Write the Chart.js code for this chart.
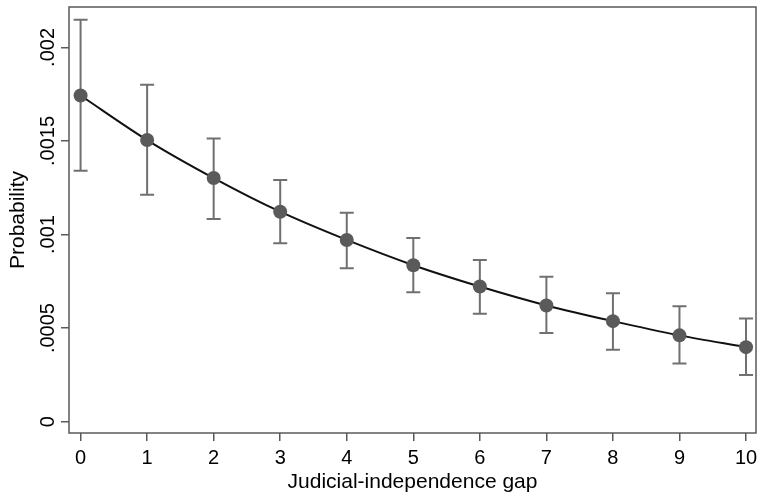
<!DOCTYPE html>
<html>
<head>
<meta charset="utf-8">
<script src="https://cdn.jsdelivr.net/npm/chart.js@4"></script>
<style>
  html, body { margin: 0; padding: 0; background: #fff; }
  #wrap { width: 763px; height: 497px; }
</style>
</head>
<body>
<div id="wrap"><canvas id="chart" width="763" height="497"></canvas></div>
<script>
// judicial-independence gap values
const gap = [0, 1, 2, 3, 4, 5, 6, 7, 8, 9, 10];
// predicted probability and its confidence interval
const prob  = [0.001743, 0.001505, 0.001302, 0.001122, 0.000971, 0.000836, 0.000722, 0.000621, 0.000537, 0.000461, 0.000398];
const upper = [0.002148, 0.001800, 0.001513, 0.001291, 0.001117, 0.000982, 0.000864, 0.000774, 0.000686, 0.000617, 0.000551];
const lower = [0.001341, 0.001213, 0.001083, 0.000953, 0.000820, 0.000692, 0.000576, 0.000473, 0.000384, 0.000310, 0.000249];

const xTicks = [0, 1, 2, 3, 4, 5, 6, 7, 8, 9, 10];
const yTicks = [0, 0.0005, 0.001, 0.0015, 0.002];
const yTickLabels = ['0', '.0005', '.001', '.0015', '.002'];

Chart.defaults.font.family = '"Liberation Sans", Arial, sans-serif';
Chart.defaults.color = '#000';

// whiskers for the confidence intervals
const errorBars = {
    id: 'errorBars',
    beforeDatasetsDraw(chart) {
        const ctx = chart.ctx;
        const xs = chart.scales.x, ys = chart.scales.y;
        ctx.save();
        ctx.strokeStyle = '#707070';
        ctx.lineWidth = 2;
        gap.forEach((g, i) => {
            const px = xs.getPixelForValue(g);
            const top = ys.getPixelForValue(upper[i]);
            const bot = ys.getPixelForValue(lower[i]);
            ctx.beginPath();
            ctx.moveTo(px, top); ctx.lineTo(px, bot);
            ctx.moveTo(px - 7, top); ctx.lineTo(px + 7, top);
            ctx.moveTo(px - 7, bot); ctx.lineTo(px + 7, bot);
            ctx.stroke();
        });
        ctx.restore();
    }
};

// full box round the plot region
const frame = {
    id: 'frame',
    afterDraw(chart) {
        const a = chart.chartArea, ctx = chart.ctx;
        ctx.save();
        ctx.strokeStyle = '#5a5a5a';
        ctx.lineWidth = 1.5;
        ctx.strokeRect(a.left, a.top, a.right - a.left, a.bottom - a.top);
        ctx.restore();
    }
};

function noPad(s) {
    s.paddingTop = 0; s.paddingBottom = 0; s.paddingLeft = 0; s.paddingRight = 0;
}

new Chart(document.getElementById('chart').getContext('2d'), {
    type: 'line',
    data: {
        datasets: [{
            data: gap.map((g, i) => ({ x: g, y: prob[i] })),
            borderColor: '#111',
            borderWidth: 2,
            cubicInterpolationMode: 'monotone',
            pointRadius: 7,
            pointBackgroundColor: '#5a5a5a',
            pointBorderWidth: 0,
            fill: false
        }]
    },
    plugins: [errorBars, frame],
    options: {
        responsive: false,
        animation: false,
        layout: { padding: { top: 6, right: 1, left: 0, bottom: 0 } },
        plugins: { legend: { display: false }, tooltip: { enabled: false } },
        scales: {
            x: {
                type: 'linear',
                min: -0.174,
                max: 10.15,
                afterBuildTicks: s => { s.ticks = xTicks.map(v => ({ value: v })); },
                afterFit: s => { s.height = 64; noPad(s); },
                grid: { drawOnChartArea: false, tickLength: 8, color: '#5a5a5a', lineWidth: 1.5 },
                border: { display: false },
                ticks: { font: { size: 20 }, padding: 5, maxRotation: 0, callback: v => String(v) },
                title: { display: true, text: 'Judicial-independence gap', font: { size: 21 }, padding: { top: 0, bottom: 2 } }
            },
            y: {
                type: 'linear',
                min: -0.0000608,
                max: 0.002216,
                afterBuildTicks: s => { s.ticks = yTicks.map(v => ({ value: v })); },
                afterFit: s => { s.width = 69; noPad(s); },
                grid: { drawOnChartArea: false, tickLength: 8, color: '#5a5a5a', lineWidth: 1.5 },
                border: { display: false },
                ticks: {
                    font: { size: 20 }, padding: -13, minRotation: 90, maxRotation: 90, crossAlign: 'center',
                    callback: v => yTickLabels[yTicks.indexOf(v)]
                },
                title: { display: true, text: 'Probability', font: { size: 21 }, padding: { top: 6, bottom: 0 } }
            }
        }
    }
});
</script>
</body>
</html>
